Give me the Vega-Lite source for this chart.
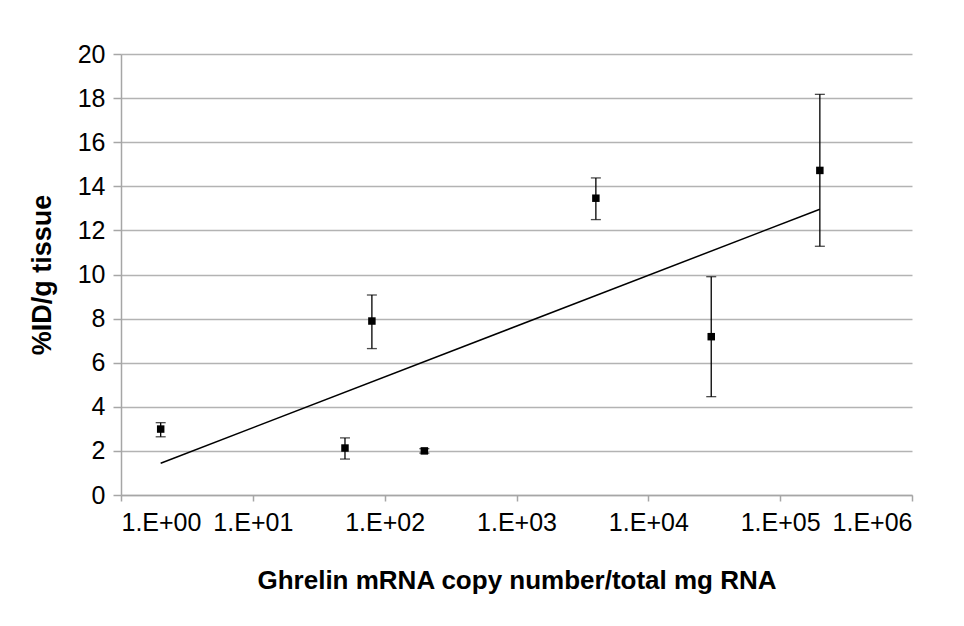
{
  "$schema": "https://vega.github.io/schema/vega-lite/v6.json",
  "width": 791,
  "height": 441,
  "autosize": {"type": "none"},
  "padding": {"left": 121, "top": 54, "right": 52, "bottom": 131},
  "background": "white",
  "config": {
    "view": {"stroke": null},
    "font": "Liberation Sans",
    "axis": {
      "labelFont": "Liberation Sans",
      "titleFont": "Liberation Sans",
      "labelFontSize": 25,
      "titleFontSize": 26,
      "labelColor": "#000000",
      "titleColor": "#000000",
      "domainColor": "#a6a6a6",
      "tickColor": "#a6a6a6",
      "gridColor": "#b3b3b3",
      "domainWidth": 1.5,
      "tickWidth": 1.5,
      "gridWidth": 1.5
    }
  },
  "datasets": {
    "pts": [
      {"x": 2, "y": 2.99, "lo": 2.64, "hi": 3.28},
      {"x": 50, "y": 2.13, "lo": 1.63, "hi": 2.59},
      {"x": 80, "y": 7.89, "lo": 6.64, "hi": 9.07},
      {"x": 200, "y": 2.0, "lo": 1.9, "hi": 2.1},
      {"x": 4000, "y": 13.46, "lo": 12.49, "hi": 14.38},
      {"x": 30000, "y": 7.18, "lo": 4.46, "hi": 9.9},
      {"x": 200000, "y": 14.72, "lo": 11.28, "hi": 18.17}
    ],
    "trend": [
      {"x": 2, "y": 1.44},
      {"x": 200000, "y": 12.96}
    ]
  },
  "layer": [
    {
      "data": {"name": "trend"},
      "mark": {"type": "line", "color": "#000000", "strokeWidth": 1.5},
      "encoding": {
        "x": {
          "field": "x", "type": "quantitative",
          "scale": {"type": "log", "domain": [1, 1000000]},
          "axis": {
            "values": [1, 10, 100, 1000, 10000, 100000, 1000000],
            "grid": false,
            "tickSize": 6,
            "labelPadding": 9,
            "labelExpr": "'1.E+0' + round(log(datum.value)/LN10)",
            "title": "Ghrelin mRNA copy number/total mg RNA",
            "titleFontWeight": "bold",
            "titlePadding": 32
          }
        },
        "y": {
          "field": "y", "type": "quantitative",
          "scale": {"domain": [0, 20]},
          "axis": {
            "values": [0, 2, 4, 6, 8, 10, 12, 14, 16, 18, 20],
            "tickSize": 8,
            "labelPadding": 8,
            "title": "%ID/g tissue",
            "titleFontWeight": "bold",
            "titleFontSize": 27,
            "titlePadding": 21
          }
        }
      }
    },
    {
      "data": {"name": "pts"},
      "mark": {"type": "rule", "color": "#000000", "strokeWidth": 1.3},
      "encoding": {
        "x": {"field": "x", "type": "quantitative"},
        "y": {"field": "lo", "type": "quantitative"},
        "y2": {"field": "hi"}
      }
    },
    {
      "data": {"name": "pts"},
      "mark": {"type": "tick", "orient": "horizontal", "color": "#000000", "size": 10, "thickness": 1.3},
      "encoding": {
        "x": {"field": "x", "type": "quantitative"},
        "y": {"field": "lo", "type": "quantitative"}
      }
    },
    {
      "data": {"name": "pts"},
      "mark": {"type": "tick", "orient": "horizontal", "color": "#000000", "size": 10, "thickness": 1.3},
      "encoding": {
        "x": {"field": "x", "type": "quantitative"},
        "y": {"field": "hi", "type": "quantitative"}
      }
    },
    {
      "data": {"name": "pts"},
      "mark": {"type": "square", "color": "#000000", "filled": true, "opacity": 1, "size": 56},
      "encoding": {
        "x": {"field": "x", "type": "quantitative"},
        "y": {"field": "y", "type": "quantitative"}
      }
    }
  ]
}
